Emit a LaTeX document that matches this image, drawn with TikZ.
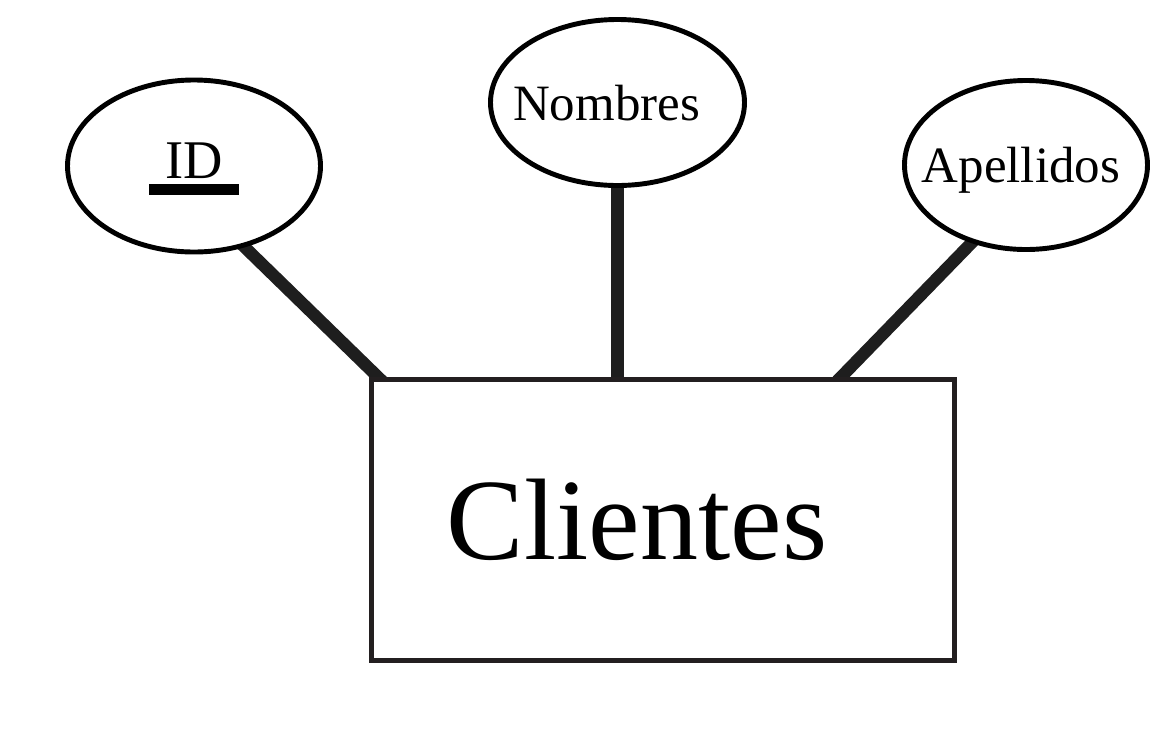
\documentclass[tikz,border=0pt]{standalone}
\usepackage{fontspec}
\setmainfont{Liberation Serif}
\usetikzlibrary{shapes.geometric, backgrounds}

\definecolor{edgeblack}{HTML}{231F20}
\definecolor{linkgray}{HTML}{1E1E1E}

% key attribute: text over a thick bar
\newcommand{\pkey}[1]{\vbox{\kern0.12cm\hbox to 1.8cm{\hss#1\hss}\kern0.1cm\hrule height 0.22cm width 1.8cm}}

\begin{document}
\begin{tikzpicture}[
    entity/.style={rectangle, draw=edgeblack, line width=2.8pt, fill=white, minimum width=11.66cm, minimum height=5.62cm, font=\fontsize{66}{70}\selectfont},
    attr/.style={ellipse, draw, line width=2.8pt, fill=white, inner sep=0pt, text depth=0pt, font=\fontsize{29}{32}\selectfont},
    link/.style={draw=linkgray, line width=7pt, shorten <=-0.15cm, shorten >=-0.15cm}
]
    \useasboundingbox (0,0) rectangle (23.46,-14.74);

    % Entity
    \node[entity] (clientes) at (13.26,-10.40) {Clientes\kern1.04cm};

    % Attributes
    \node[attr, minimum width=5.06cm, minimum height=3.44cm, font=\fontsize{31}{34}\selectfont] (id) at (3.88,-3.32) {\pkey{ID}};
    \node[attr, minimum width=5.08cm, minimum height=3.32cm] (nombres) at (12.35,-2.05) {\makebox[0pt]{Nombres\kern0.44cm}};
    \node[attr, minimum width=4.86cm, minimum height=3.38cm] (apellidos) at (20.52,-3.30) {\makebox[0pt]{Apellidos\kern0.2cm}};

    % Feet of the links on the entity
    \coordinate (idfoot) at ([xshift=0.18cm]clientes.north west);
    \coordinate (apfoot) at ([xshift=9.44cm]clientes.north west);

    % Links
    \begin{scope}[on background layer]
        \draw[link] (id.-58) -- (idfoot);
        \draw[link] (nombres) -- (nombres |- clientes.north);
        \draw[link] (apellidos.-125) -- (apfoot);
    \end{scope}
\end{tikzpicture}
\end{document}
